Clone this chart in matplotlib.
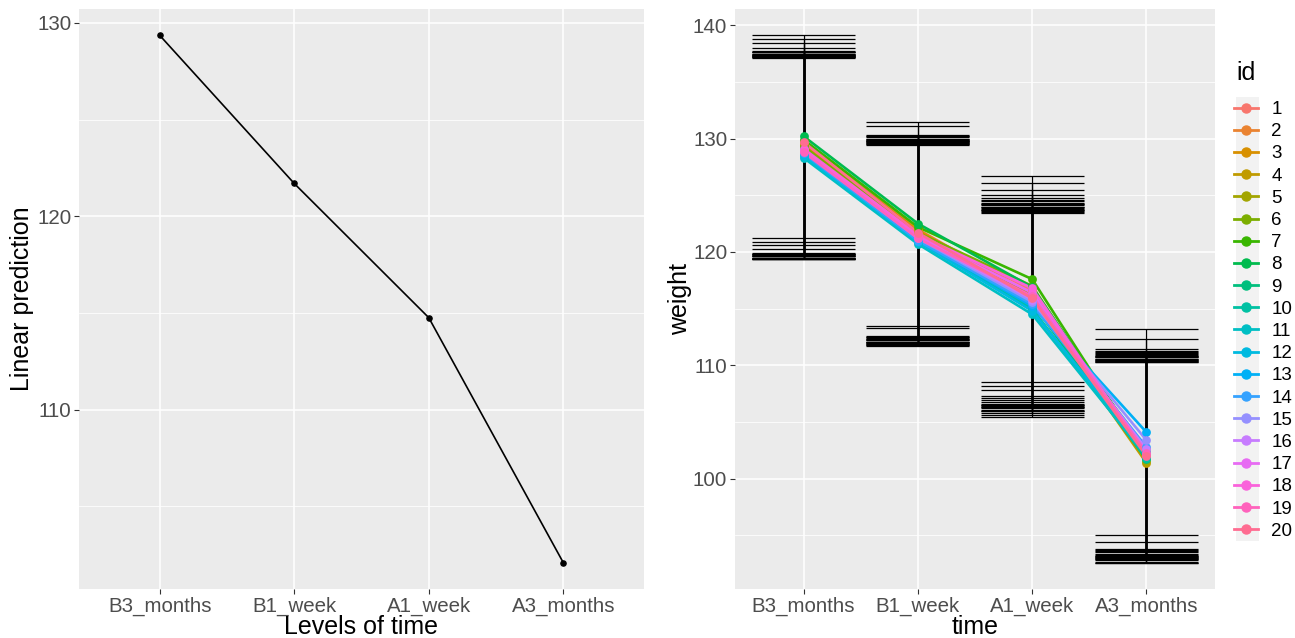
import matplotlib
matplotlib.use("Agg")
import matplotlib.pyplot as plt
from matplotlib.lines import Line2D
from matplotlib.patches import Rectangle
import numpy as np

plt.rcParams['font.family'] = ['Liberation Sans', 'DejaVu Sans']

# data
times = ['B3_months', 'B1_week', 'A1_week', 'A3_months']
pred = [129.36, 121.70, 114.76, 102.09]

ids = [str(i) for i in range(1, 21)]
colors = ["#F8766D", "#EA8331", "#D89000", "#C09B00", "#A3A500", "#7CAE00", "#39B600",
          "#00BB4E", "#00BF7D", "#00C1A3", "#00BFC4", "#00BAE0", "#00B0F6", "#35A2FF",
          "#9590FF", "#C77CFF", "#E76BF3", "#FA62DB", "#FF62BC", "#FF6C91"]

w_b3 = [129.6, 129.8, 129.4, 129.2, 129.0, 129.3, 129.9, 130.2, 129.1, 128.6,
        128.3, 128.5, 128.8, 128.7, 128.9, 129.0, 128.9, 129.1, 128.8, 129.7]
w_b1 = [121.8, 122.0, 121.9, 121.6, 121.4, 121.7, 122.2, 122.5, 121.3, 121.0,
        120.7, 120.9, 121.1, 121.0, 121.2, 121.3, 121.4, 121.5, 121.2, 121.7]
w_a1 = [116.6, 116.2, 116.0, 115.8, 116.3, 117.0, 117.6, 116.9, 115.5, 115.0,
        114.5, 114.8, 115.2, 115.4, 115.6, 115.8, 116.4, 116.8, 116.1, 115.9]
w_a3 = [102.0, 102.3, 102.6, 101.4, 101.6, 101.8, 101.9, 102.1, 101.7, 101.8,
        102.0, 102.4, 104.1, 102.8, 103.4, 102.6, 102.2, 102.1, 102.3, 102.0]

hi_b3 = [137.4, 137.6, 138.0, 137.3, 137.2, 137.5, 139.1, 138.8, 137.3, 137.1,
         137.2, 137.4, 137.6, 138.4, 137.5, 137.3, 137.7, 137.2, 137.4, 137.6]
lo_b3 = [119.6, 119.8, 120.3, 119.5, 119.4, 119.7, 121.2, 120.9, 119.5, 119.4,
         119.35, 119.6, 119.8, 120.6, 119.7, 119.5, 119.9, 119.4, 119.6, 119.8]
hi_b1 = [129.8, 130.0, 130.2, 129.6, 129.5, 129.9, 131.5, 131.1, 129.7, 129.4,
         129.5, 129.8, 130.1, 130.3, 129.9, 129.6, 130.0, 129.7, 129.8, 130.2]
lo_b1 = [112.1, 112.3, 112.5, 111.9, 111.8, 112.2, 113.5, 113.3, 112.0, 111.7,
         111.8, 112.1, 112.4, 112.6, 112.2, 111.9, 112.3, 112.0, 112.1, 112.5]
hi_a1 = [124.0, 124.3, 124.6, 123.7, 123.5, 124.2, 126.7, 126.05, 123.8, 123.4,
         123.6, 124.1, 124.5, 125.45, 124.0, 123.7, 124.8, 123.9, 124.2, 125.0]
lo_a1 = [106.3, 106.6, 106.9, 106.0, 105.8, 106.5, 108.5, 108.2, 106.1, 105.4,
         105.6, 106.4, 106.8, 107.8, 106.3, 106.0, 107.1, 106.2, 106.5, 107.3]
hi_a3 = [110.6, 110.9, 111.2, 110.4, 110.3, 110.8, 113.2, 112.3, 110.5, 110.3,
         110.4, 110.7, 111.0, 111.4, 110.8, 110.5, 111.1, 110.6, 110.7, 111.3]
lo_a3 = [93.0, 93.3, 93.6, 92.8, 92.6, 93.2, 95.0, 94.4, 92.9, 92.6,
         92.7, 93.1, 93.4, 93.8, 93.2, 92.9, 93.5, 93.0, 93.1, 93.7]

weights = np.array([w_b3, w_b1, w_a1, w_a3])
his = np.array([hi_b3, hi_b1, hi_a1, hi_a3])
los = np.array([lo_b3, lo_b1, lo_a1, lo_a3])

W, H = 1295, 638
fig = plt.figure(figsize=(W / 100, H / 100), dpi=100)

def style(ax):
    ax.set_facecolor('#EBEBEB')
    for s in ax.spines.values():
        s.set_visible(False)
    ax.grid(which='major', color='white', linewidth=1.1)
    ax.grid(which='minor', axis='y', color='white', linewidth=0.55)
    ax.set_axisbelow(True)
    ax.tick_params(which='major', length=3.5, width=0.8, color='#333333',
                   labelsize=14.8, labelcolor='#4D4D4D', pad=2)
    ax.tick_params(which='minor', length=0)
    ax.set_xticks(range(1, 5))
    ax.set_xticklabels(times)
    ax.set_xlim(0.4, 4.6)

# left panel
ax1 = fig.add_axes([79 / W, 1 - 589 / H, 565 / W, 580 / H])
style(ax1)
x = np.arange(1, 5)
ax1.plot(x, pred, color='black', linewidth=1.2)
ax1.scatter(x, pred, color='black', s=14, zorder=3)
ax1.margins(y=0.05)
ax1.set_yticks([110, 120, 130])
ax1.set_yticks([105, 115, 125], minor=True)
ax1.set_xlabel('Levels of time', fontsize=18, va='center')
ax1.set_ylabel('Linear prediction', fontsize=18, va='center')
ax1.xaxis.set_label_coords((361 - 79) / 565, (589 - 627) / 580)
ax1.yaxis.set_label_coords((22 - 79) / 565, 0.5)

# right panel
ax2 = fig.add_axes([735 / W, 1 - 589 / H, 480 / W, 580 / H])
style(ax2)
for j in range(len(ids)):
    ax2.errorbar(x, weights[:, j], yerr=[weights[:, j] - los[:, j], his[:, j] - weights[:, j]],
                 fmt='none', ecolor='black', elinewidth=0.9, capsize=0, zorder=2)
    ax2.hlines(los[:, j], x - 0.45, x + 0.45, color='black', linewidth=0.9, zorder=2)
    ax2.hlines(his[:, j], x - 0.45, x + 0.45, color='black', linewidth=0.9, zorder=2)
for j in range(len(ids)):
    ax2.plot(x, weights[:, j], color=colors[j], linewidth=1.9, zorder=3)
    ax2.scatter(x, weights[:, j], color=colors[j], s=40, zorder=4, linewidths=0)
ax2.margins(y=0.05)
ax2.set_xlim(0.4, 4.6)
ax2.set_yticks([100, 110, 120, 130, 140])
ax2.set_yticks([95, 105, 115, 125, 135], minor=True)
ax2.set_xlabel('time', fontsize=18, va='center')
ax2.set_ylabel('weight', fontsize=18, va='center')
ax2.xaxis.set_label_coords((975 - 735) / 480, (589 - 627) / 580)
ax2.yaxis.set_label_coords((680 - 735) / 480, 0.5)

# legend
fig.patches.append(Rectangle((1236 / W, 1 - 541 / H), 23 / W, 444 / H,
                             transform=fig.transFigure, facecolor='#F2F2F2',
                             edgecolor='none', zorder=0))
fig.text(1236 / W, 1 - 73 / H, 'id', fontsize=18, va='center', ha='left')
handles = [Line2D([0], [0], color=c, linewidth=2.0, marker='o', markersize=6.5) for c in colors]
leg = fig.legend(handles, ids, loc='upper left', bbox_to_anchor=(1234 / W, 1 - 101 / H),
                 fontsize=13.5, frameon=False, borderpad=0,
                 handlelength=1.3, handletextpad=0.7, labelspacing=0.27,
                 borderaxespad=0)

fig.savefig('out.png', dpi=100)
